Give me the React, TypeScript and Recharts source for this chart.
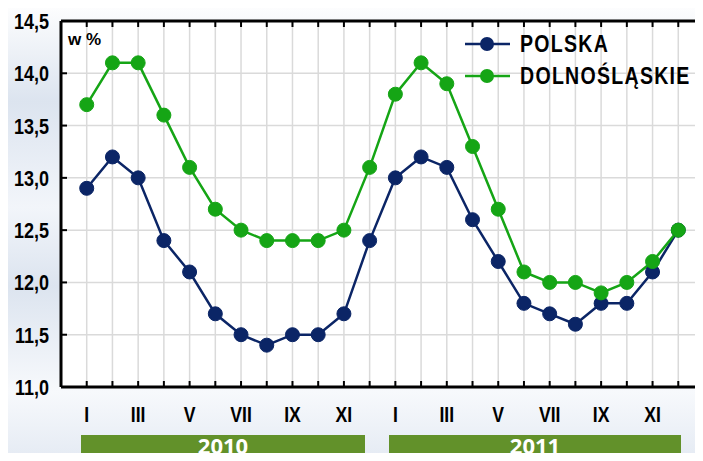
import React from 'react';
import { LineChart, Line, XAxis, YAxis, CartesianGrid } from 'recharts';

const months = ['I', 'II', 'III', 'IV', 'V', 'VI', 'VII', 'VIII', 'IX', 'X', 'XI', 'XII',
  'I', 'II', 'III', 'IV', 'V', 'VI', 'VII', 'VIII', 'IX', 'X', 'XI', 'XII'];
const polska = [12.9, 13.2, 13.0, 12.4, 12.1, 11.7, 11.5, 11.4, 11.5, 11.5, 11.7, 12.4,
  13.0, 13.2, 13.1, 12.6, 12.2, 11.8, 11.7, 11.6, 11.8, 11.8, 12.1, 12.5];
const dolnoslaskie = [13.7, 14.1, 14.1, 13.6, 13.1, 12.7, 12.5, 12.4, 12.4, 12.4, 12.5, 13.1,
  13.8, 14.1, 13.9, 13.3, 12.7, 12.1, 12.0, 12.0, 11.9, 12.0, 12.2, 12.5];
const yTicks = [11, 11.5, 12, 12.5, 13, 13.5, 14, 14.5];
const years = ['2010', '2011'];

const NAVY = '#0b2566';
const GREEN = '#15a515';
const FONT = "'Liberation Sans', Arial, sans-serif";

const data = months.map((m, i) => ({ idx: i, month: m, polska: polska[i], dolnoslaskie: dolnoslaskie[i] }));
const xTicks = data.map(d => d.idx);

// ticks point inward on all four sides, like the original frame
const BottomTick = (props: any) => {
  const { x, y, payload } = props;
  const label = payload.value % 2 === 0 ? months[payload.value] : '';
  return (
    <g>
      <line x1={x} x2={x} y1={y} y2={y - 6} stroke="#000" strokeWidth={2} />
      {label && (
        <text transform={`translate(${x},${y + 35}) scale(0.8,1)`} textAnchor="middle"
          fontFamily={FONT} fontWeight="bold" fontSize={22} fill="#000">{label}</text>
      )}
    </g>
  );
};

const TopTick = (props: any) => {
  const { x, y } = props;
  return <line x1={x} x2={x} y1={y} y2={y + 6} stroke="#000" strokeWidth={2} />;
};

const LeftTick = (props: any) => {
  const { x, y, payload } = props;
  return (
    <g>
      <line x1={x} x2={x + 6} y1={y} y2={y} stroke="#000" strokeWidth={2} />
      <text transform={`translate(${x - 12},${y + 8}) scale(0.8,1)`} textAnchor="end"
        fontFamily={FONT} fontWeight="bold" fontSize={22.5} fill="#000">
        {payload.value.toFixed(1).replace('.', ',')}
      </text>
    </g>
  );
};

const RightTick = (props: any) => {
  const { x, y } = props;
  return <line x1={x} x2={x - 6} y1={y} y2={y} stroke="#000" strokeWidth={2} />;
};

const LegendItem = ({ color, label, top }: { color: string; label: string; top: number }) => (
  <div style={{ position: 'absolute', left: 465, top, display: 'flex', alignItems: 'center', height: 24 }}>
    <svg width={45} height={24}>
      <line x1={0} x2={45} y1={12} y2={12} stroke={color} strokeWidth={2.5} />
      <circle cx={22} cy={12} r={7} fill={color} />
    </svg>
    <span style={{
      marginLeft: 10, fontFamily: FONT, fontWeight: 'bold', fontSize: 23, color: '#000', lineHeight: '24px',
      letterSpacing: 1.5, transform: 'scaleX(0.85)', transformOrigin: 'left center', whiteSpace: 'nowrap',
    }}>
      {label}
    </span>
  </div>
);

const yearBars = [
  { left: 81, width: 284 },
  { left: 389, width: 292 },
];

export default function App() {
  return (
    <div style={{
      position: 'relative', width: 703, height: 461, margin: -8, overflow: 'hidden',
      background: 'linear-gradient(to bottom, #ffffff 0%, #dce4ef 22%, #f2f5fa 45%, #dce4ef 62%, #f7f9fc 85%, #e4eaf3 100%)',
    }}>
      <LineChart width={720} height={461} data={data} margin={{ top: 0, right: 0, bottom: 0, left: 0 }}>
        <CartesianGrid stroke="#dadada" strokeWidth={1.5} fill="#ffffff" />
        <XAxis dataKey="idx" type="number" domain={[-1, 24]} ticks={xTicks} interval={0}
          height={74} tickSize={0} tickMargin={0} tick={BottomTick}
          axisLine={{ stroke: '#000', strokeWidth: 3 }} tickLine={false} />
        <XAxis xAxisId="top" orientation="top" dataKey="idx" type="number" domain={[-1, 24]} ticks={xTicks}
          interval={0} height={21} tickSize={0} tickMargin={0} tick={TopTick}
          axisLine={{ stroke: '#000', strokeWidth: 3 }} tickLine={false} />
        <YAxis type="number" domain={[11, 14.5]} ticks={yTicks} interval={0} width={61}
          tickSize={0} tickMargin={0} tick={LeftTick}
          axisLine={{ stroke: '#000', strokeWidth: 3 }} tickLine={false} />
        <YAxis yAxisId="right" orientation="right" type="number" domain={[11, 14.5]} ticks={yTicks}
          interval={0} width={16} tickSize={0} tickMargin={0} tick={RightTick}
          axisLine={{ stroke: '#000', strokeWidth: 3 }} tickLine={false} />
        <Line dataKey="polska" stroke={NAVY} strokeWidth={2.5} dot={{ r: 7, fill: NAVY, stroke: NAVY, strokeWidth: 1 }}
          activeDot={false} isAnimationActive={false} />
        <Line dataKey="dolnoslaskie" stroke={GREEN} strokeWidth={2.5} dot={{ r: 7, fill: GREEN, stroke: GREEN, strokeWidth: 1 }}
          activeDot={false} isAnimationActive={false} />
      </LineChart>
      <div style={{ position: 'absolute', left: 68, top: 30, fontFamily: FONT, fontWeight: 'bold', fontSize: 17, color: '#000' }}>
        w %
      </div>
      <LegendItem color={NAVY} label="POLSKA" top={32} />
      <LegendItem color={GREEN} label="DOLNOŚLĄSKIE" top={64} />
      {years.map((y, i) => (
        <div key={y} style={{
          position: 'absolute', left: yearBars[i].left, width: yearBars[i].width, top: 435, height: 26,
          background: '#62912a', color: '#fff', fontFamily: "'Open Sans', sans-serif", fontWeight: 'bold',
          fontSize: 22, textAlign: 'center', lineHeight: '20px',
        }}>
          {y}
        </div>
      ))}
    </div>
  );
}
